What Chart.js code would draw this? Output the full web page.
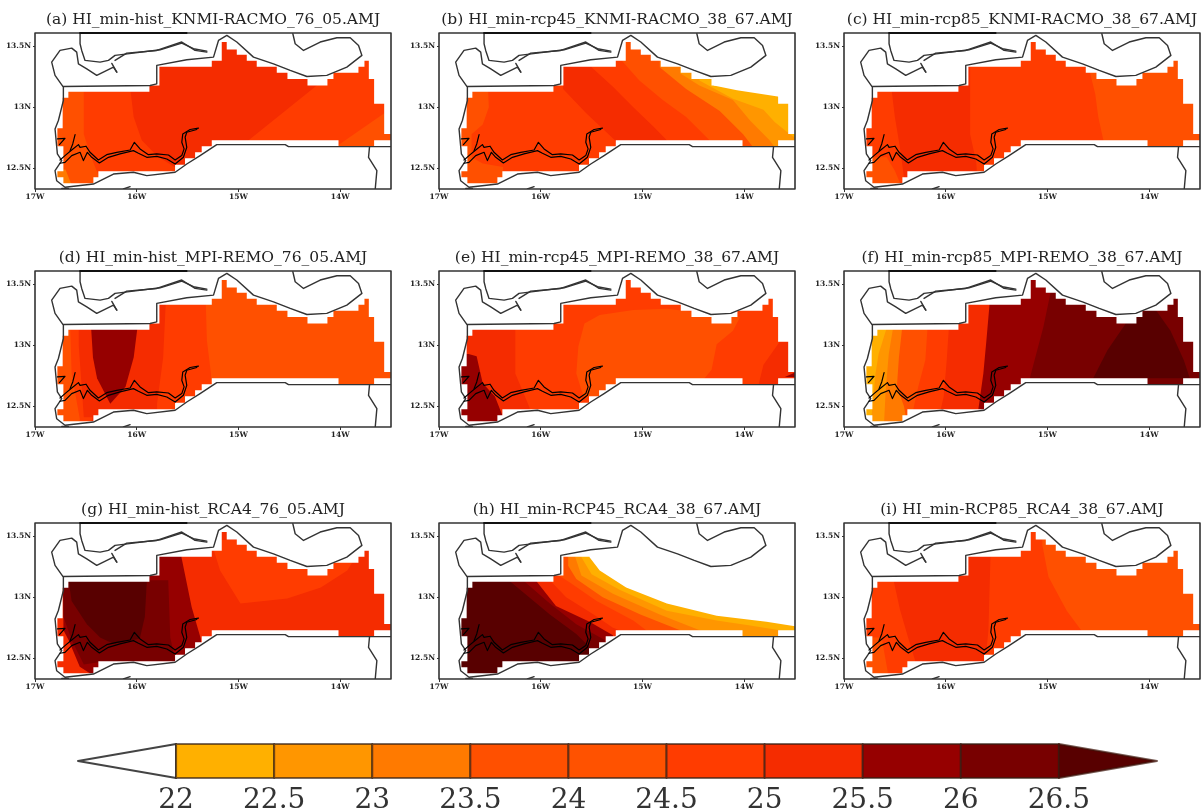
<!DOCTYPE html>
<html><head><meta charset="utf-8">
<script src="https://cdn.jsdelivr.net/npm/chart.js@4"></script>
<style>
html,body{margin:0;padding:0;background:#fff;width:1203px;height:809px;overflow:hidden}
canvas{position:absolute;filter:blur(.7px)}
</style></head><body>
<script>
// ---------- colour scale ----------
const levelColors = ["#FFB000","#FF9600","#FF7A00","#FF5000","#FF5200","#FF3C00","#F52C00","#960000","#780000","#580000"];
const levelTicks = [22,22.5,23,23.5,24,24.5,25,25.5,26,26.5];
// ---------- axes ----------
const lonTicks = {"-17":"17W","-16":"16W","-15":"15W","-14":"14W"};
const latTicks = {"12.5":"12.5N","13":"13N","13.5":"13.5N"};
const lonRange = [-17,-13.5];
const latRange = [12.33,13.61];
// ---------- geography (lon,lat) ----------
const region = [[-15.164,13.536],[-15.115,13.536],[-15.115,13.475],[-15.016,13.475],[-15.016,13.432],[-14.918,13.432],[-14.918,13.382],[-14.82,13.382],[-14.82,13.333],[-14.623,13.333],[-14.623,13.284],[-14.518,13.284],[-14.518,13.232],[-14.321,13.232],[-14.321,13.179],[-14.125,13.179],[-14.125,13.232],[-14.066,13.232],[-14.066,13.284],[-13.82,13.284],[-13.82,13.333],[-13.761,13.333],[-13.761,13.382],[-13.718,13.382],[-13.718,13.232],[-13.666,13.232],[-13.666,13.029],[-13.567,13.029],[-13.567,12.782],[-13.498,12.782],[-13.498,12.73],[-13.666,12.73],[-13.666,12.681],[-14.016,12.681],[-14.016,12.73],[-15.207,12.73],[-15.262,12.73],[-15.262,12.681],[-15.361,12.681],[-15.361,12.632],[-15.426,12.632],[-15.426,12.582],[-15.525,12.582],[-15.525,12.53],[-15.623,12.53],[-15.623,12.475],[-16.377,12.475],[-16.377,12.426],[-16.426,12.426],[-16.426,12.377],[-16.721,12.377],[-16.721,12.426],[-16.78,12.426],[-16.78,12.475],[-16.721,12.475],[-16.721,12.681],[-16.78,12.681],[-16.78,12.829],[-16.728,12.829],[-16.728,13.078],[-16.672,13.078],[-16.672,13.127],[-15.875,13.127],[-15.875,13.179],[-15.777,13.179],[-15.777,13.333],[-15.262,13.333],[-15.262,13.382],[-15.164,13.382]];
const coastWest = [[-16.196,13.289],[-16.229,13.33],[-16.393,13.262],[-16.491,13.316],[-16.573,13.357],[-16.59,13.453],[-16.639,13.486],[-16.754,13.467],[-16.836,13.371],[-16.803,13.262],[-16.721,13.166],[-16.721,13.056],[-16.77,12.892],[-16.803,12.823],[-16.78,12.618],[-16.737,12.563],[-16.803,12.481],[-16.787,12.398],[-16.705,12.344],[-16.426,12.371],[-16.229,12.453],[-16.032,12.467],[-15.901,12.44],[-15.622,12.467],[-15.508,12.535],[-15.377,12.604],[-15.213,12.694],[-14.54,12.694],[-14.508,12.678],[-13.498,12.678]];
const coastNorth = [[-16.721,13.171],[-15.868,13.179],[-15.803,13.193],[-15.803,13.344],[-15.508,13.39],[-15.245,13.412],[-15.196,13.549],[-15.114,13.59],[-15.016,13.536],[-14.852,13.412],[-14.655,13.357],[-14.491,13.303],[-14.327,13.253],[-14.131,13.262],[-13.934,13.33],[-13.786,13.426],[-13.819,13.508],[-13.901,13.571],[-14.032,13.571],[-14.196,13.536],[-14.36,13.467],[-14.442,13.522],[-14.465,13.604]];
const coastInlet = [[-16.557,13.604],[-16.557,13.522],[-16.541,13.467],[-16.508,13.385],[-16.36,13.371],[-16.278,13.385],[-16.213,13.426],[-16.032,13.445],[-15.77,13.472],[-15.557,13.527],[-15.442,13.481],[-15.311,13.461]];
const coastInlet2 = [[-16.213,13.385],[-16.098,13.445],[-15.803,13.467],[-15.557,13.536],[-15.426,13.467],[-15.311,13.453]];
const coastSpike = [[-16.245,13.36],[-16.196,13.289]];
const coastEast = [[-13.711,12.678],[-13.721,12.59],[-13.639,12.481],[-13.655,12.33]];
const coastDot1 = [[-16.737,12.335],[-16.672,12.335]];
const coastDot2 = [[-16.131,12.33],[-16.065,12.349]];
const topEdge = [[-16.557,13.61],[-15.51,13.61]];
const riverN = [[-15.393,12.829],[-15.475,12.818],[-15.547,12.782],[-15.557,12.713],[-15.534,12.659],[-15.557,12.604],[-15.622,12.568],[-15.688,12.609],[-15.803,12.618],[-15.885,12.612],[-15.967,12.659],[-16.023,12.713],[-16.065,12.65],[-16.196,12.631],[-16.295,12.612],[-16.377,12.568],[-16.459,12.631],[-16.498,12.681],[-16.557,12.672],[-16.573,12.694],[-16.639,12.65],[-16.705,12.604],[-16.754,12.568]];
const riverS = [[-15.409,12.818],[-15.508,12.796],[-15.524,12.755],[-15.508,12.672],[-15.541,12.59],[-15.622,12.535],[-15.704,12.576],[-15.803,12.598],[-15.901,12.59],[-15.983,12.623],[-16.032,12.645],[-16.164,12.618],[-16.278,12.59],[-16.367,12.544],[-16.442,12.59],[-16.485,12.631],[-16.524,12.563],[-16.557,12.631],[-16.639,12.604],[-16.705,12.549],[-16.754,12.541]];
const riverBranch = [[-16.606,12.776],[-16.629,12.7],[-16.655,12.645]];
const riverMouth = [[-16.78,12.741],[-16.705,12.746],[-16.76,12.694]];
const frameBox = [[-17,13.61],[-13.5,13.61],[-13.5,12.33],[-17,12.33],[-17,13.61]];
// ---------- panels ----------
const panelTitles = ["(a) HI_min-hist_KNMI-RACMO_76_05.AMJ","(b) HI_min-rcp45_KNMI-RACMO_38_67.AMJ","(c) HI_min-rcp85_KNMI-RACMO_38_67.AMJ","(d) HI_min-hist_MPI-REMO_76_05.AMJ","(e) HI_min-rcp45_MPI-REMO_38_67.AMJ","(f) HI_min-rcp85_MPI-REMO_38_67.AMJ","(g) HI_min-hist_RCA4_76_05.AMJ","(h) HI_min-RCP45_RCA4_38_67.AMJ","(i) HI_min-RCP85_RCA4_38_67.AMJ"];
const panelBase = [5,5,5,3,5,0,6,-1,5];
const zonesA = [
 [6,[[-16.07,13.6],[-16.06,13.13],[-16.03,12.92],[-15.95,12.73],[-15.80,12.60],[-15.57,12.48],[-15.25,12.67],[-14.90,12.73],[-14.23,13.18],[-14.07,13.33],[-14.07,13.6]]],
 [3,[[-16.85,13.2],[-16.52,13.2],[-16.52,12.78],[-16.46,12.62],[-16.38,12.45],[-16.34,12.32],[-16.85,12.32]]],
 [3,[[-14.07,12.66],[-13.57,12.95],[-13.4,12.95],[-13.4,12.66]]],
 [2,[[-16.79,12.49],[-16.70,12.49],[-16.64,12.36],[-16.79,12.36]]]];
const zonesB = [
 [3,[[-16.89,13.2],[-16.52,13.2],[-16.51,13.0],[-16.57,12.86],[-16.68,12.78],[-16.68,12.59],[-16.57,12.54],[-16.37,12.51],[-16.37,12.3],[-16.89,12.3]]],
 [6,[[-15.78,13.15],[-15.55,12.95],[-15.27,12.73],[-15.21,12.32],[-13.4,12.32],[-13.4,13.7],[-15.78,13.7]]],
 [5,[[-15.50,13.33],[-15.29,13.17],[-15.09,13.0],[-14.89,12.84],[-14.76,12.73],[-14.72,12.32],[-13.4,12.32],[-13.4,13.7],[-15.50,13.7]]],
 [3,[[-15.20,13.38],[-15.03,13.22],[-14.80,13.06],[-14.57,12.92],[-14.34,12.73],[-14.29,12.32],[-13.4,12.32],[-13.4,13.7],[-15.20,13.7]]],
 [2,[[-14.83,13.33],[-14.57,13.15],[-14.24,12.97],[-14.01,12.78],[-13.91,12.67],[-13.91,12.3],[-13.4,12.3],[-13.4,13.7],[-14.83,13.7]]],
 [1,[[-14.63,13.28],[-14.44,13.18],[-14.11,13.06],[-13.94,12.89],[-13.75,12.73],[-13.67,12.64],[-13.4,12.64],[-13.4,13.7],[-14.63,13.7]]],
 [0,[[-14.44,13.22],[-14.11,13.07],[-13.81,12.98],[-13.70,12.88],[-13.55,12.78],[-13.41,12.70],[-13.4,13.7],[-14.44,13.7]]],
 [-1,[[-14.30,13.18],[-14.07,13.14],[-13.67,13.09],[-13.4,13.02],[-13.4,13.7],[-14.30,13.7]]]];
const zonesC = [
 [6,[[-16.53,13.6],[-16.53,13.13],[-16.50,12.92],[-16.45,12.67],[-16.39,12.3],[-15.68,12.3],[-15.70,12.55],[-15.76,12.78],[-15.76,13.6]]],
 [3,[[-14.58,13.7],[-14.58,13.28],[-14.53,13.11],[-14.50,12.92],[-14.45,12.73],[-14.42,12.32],[-13.4,12.32],[-13.4,13.7]]],
 [3,[[-16.58,12.59],[-16.50,12.48],[-16.43,12.34],[-16.9,12.34],[-16.9,12.59]]]];
const zonesD = [
 [5,[[-16.67,13.6],[-16.64,12.77],[-16.56,12.40],[-16.56,12.3],[-15.25,12.3],[-15.27,12.77],[-15.31,13.04],[-15.33,13.6]]],
 [6,[[-16.57,13.6],[-16.57,13.0],[-16.52,12.41],[-16.44,12.41],[-16.44,12.3],[-15.80,12.3],[-15.80,12.52],[-15.74,12.90],[-15.70,13.6]]],
 [7,[[-16.46,13.3],[-16.43,12.9],[-16.39,12.73],[-16.26,12.52],[-16.11,12.66],[-16.03,12.90],[-15.97,13.3]]]];
const zonesE = [
 [6,[[-16.9,13.3],[-16.25,13.3],[-16.25,12.77],[-16.11,12.49],[-16.11,12.3],[-16.9,12.3]]],
 [3,[[-15.57,13.18],[-15.42,13.25],[-15.09,13.29],[-14.76,13.30],[-14.44,13.27],[-14.04,13.23],[-14.11,13.12],[-14.27,13.01],[-14.32,12.80],[-14.43,12.69],[-15.25,12.67],[-15.42,12.58],[-15.58,12.58],[-15.65,12.77],[-15.63,12.99]]],
 [7,[[-16.71,12.93],[-16.63,12.91],[-16.57,12.69],[-16.45,12.58],[-16.37,12.41],[-16.37,12.3],[-16.9,12.3],[-16.9,12.93]]],
 [6,[[-13.65,13.03],[-13.81,12.84],[-13.86,12.67],[-13.4,12.67],[-13.4,13.03]]],
 [7,[[-13.6,12.74],[-13.49,12.78],[-13.4,12.78],[-13.4,12.74]]]];
const zonesF = [
 [1,[[-16.585,13.13],[-16.66,12.93],[-16.69,12.77],[-16.73,12.41],[-16.73,12.3],[-13.4,12.3],[-13.4,13.7],[-16.585,13.7]]],
 [2,[[-16.52,13.13],[-16.56,12.93],[-16.59,12.63],[-16.61,12.3],[-13.4,12.3],[-13.4,13.7],[-16.52,13.7]]],
 [3,[[-16.43,13.13],[-16.46,12.9],[-16.48,12.66],[-16.41,12.5],[-16.37,12.3],[-13.4,12.3],[-13.4,13.7],[-16.43,13.7]]],
 [5,[[-16.18,13.13],[-16.2,12.88],[-16.27,12.66],[-16.32,12.47],[-16.32,12.3],[-13.4,12.3],[-13.4,13.7],[-16.18,13.7]]],
 [6,[[-15.97,13.13],[-15.99,12.88],[-16.02,12.58],[-16.05,12.47],[-16.05,12.3],[-13.4,12.3],[-13.4,13.7],[-15.97,13.7]]],
 [7,[[-15.57,13.33],[-15.60,13.04],[-15.63,12.77],[-15.68,12.47],[-15.68,12.3],[-13.4,12.3],[-13.4,13.7],[-15.57,13.7]]],
 [8,[[-14.97,13.43],[-15.04,13.15],[-15.17,12.74],[-15.17,12.3],[-13.4,12.3],[-13.4,13.7],[-14.97,13.7]]],
 [9,[[-13.96,13.32],[-14.23,13.18],[-14.41,12.96],[-14.55,12.73],[-13.6,12.73],[-13.66,12.88],[-13.79,13.12]]]];
const zonesG = [
 [5,[[-15.24,13.38],[-15.18,13.22],[-14.98,12.95],[-14.52,12.99],[-14.19,13.08],[-13.93,13.22],[-13.87,13.30],[-13.87,13.47],[-15.24,13.47]]],
 [7,[[-16.73,13.6],[-16.72,12.73],[-16.67,12.65],[-16.56,12.43],[-16.43,12.36],[-15.34,12.36],[-15.37,12.66],[-15.46,12.92],[-15.56,13.33],[-15.56,13.6]]],
 [8,[[-16.72,13.08],[-16.72,12.84],[-16.64,12.65],[-16.52,12.45],[-16.36,12.47],[-15.62,12.48],[-15.67,12.67],[-15.69,13.14],[-16.72,13.14]]],
 [9,[[-16.67,13.14],[-16.64,12.97],[-16.49,12.78],[-16.36,12.67],[-16.23,12.62],[-15.97,12.66],[-15.92,12.84],[-15.90,13.14]]]];
const zonesH = [
 [0,[[-15.52,13.33],[-15.42,13.22],[-15.16,13.08],[-14.76,12.95],[-14.27,12.85],[-13.78,12.8],[-13.48,12.76],[-13.41,12.75],[-13.4,12.3],[-16.9,12.3],[-16.9,13.7],[-15.52,13.7]]],
 [1,[[-15.6,13.33],[-15.5,13.19],[-15.22,13.06],[-14.76,12.89],[-14.27,12.81],[-13.94,12.77],[-13.65,12.73],[-13.65,12.3],[-16.9,12.3],[-16.9,13.7],[-15.6,13.7]]],
 [2,[[-15.66,13.33],[-15.6,13.18],[-15.29,13.03],[-14.83,12.86],[-14.50,12.75],[-14.37,12.71],[-14.37,12.3],[-16.9,12.3],[-16.9,13.7],[-15.66,13.7]]],
 [3,[[-15.73,13.26],[-15.65,13.15],[-15.39,13.0],[-15.02,12.86],[-14.63,12.73],[-14.63,12.3],[-16.9,12.3],[-16.9,13.7],[-15.73,13.7]]],
 [5,[[-15.84,13.19],[-15.71,13.12],[-15.45,12.97],[-15.09,12.81],[-14.93,12.71],[-14.93,12.3],[-16.9,12.3],[-16.9,13.7],[-15.84,13.7]]],
 [6,[[-15.91,13.14],[-15.75,13.0],[-15.48,12.86],[-15.29,12.75],[-15.16,12.71],[-15.16,12.3],[-16.9,12.3],[-16.9,13.7],[-15.91,13.7]]],
 [7,[[-16.04,13.13],[-15.85,12.93],[-15.52,12.8],[-15.29,12.69],[-15.29,12.3],[-16.9,12.3],[-16.9,13.7],[-16.04,13.7]]],
 [8,[[-16.16,13.13],[-15.91,12.95],[-15.65,12.78],[-15.37,12.65],[-15.37,12.3],[-16.9,12.3],[-16.9,13.7],[-16.16,13.7]]],
 [9,[[-16.3,13.13],[-15.91,12.86],[-15.65,12.7],[-15.48,12.56],[-15.48,12.3],[-16.9,12.3],[-16.9,13.7],[-16.3,13.7]]]];
const zonesI = [
 [6,[[-16.51,13.6],[-16.51,13.13],[-16.45,12.9],[-16.37,12.67],[-16.3,12.48],[-16.3,12.3],[-15.63,12.3],[-15.58,12.73],[-15.56,13.33],[-15.56,13.6]]],
 [3,[[-15.05,13.7],[-15.05,13.43],[-14.99,13.17],[-14.81,12.89],[-14.65,12.71],[-14.65,12.3],[-13.4,12.3],[-13.4,13.7]]],
 [3,[[-16.63,12.67],[-16.57,12.39],[-16.57,12.3],[-16.9,12.3],[-16.9,12.67]]]];
const panelZones = [zonesA,zonesB,zonesC,zonesD,zonesE,zonesF,zonesG,zonesH,zonesI];

// ---------- helpers ----------
function ring(pts){return pts.map(p=>({x:p[0],y:p[1]}));}
function fillDs(pts,color){
  const c=pts.slice();c.push(pts[0]);
  return {data:ring(c),showLine:true,fill:'shape',backgroundColor:color,borderWidth:0,borderColor:'transparent',pointRadius:0,tension:0};
}
function lineDs(pts,color,w,noClip){
  const d={data:ring(pts),showLine:true,fill:false,borderColor:color,borderWidth:w,pointRadius:0,tension:0,borderJoinStyle:'round',borderCapStyle:'round'};
  if(noClip)d.clip=false;
  return d;
}
function ordered(list){list.forEach((d,i)=>{d.order=-i;});return list;}
Chart.defaults.animation=false;
const SERIF='"DejaVu Serif"';
const canvasLefts=[0,404,809], canvasTops=[0,238,490];

panelTitles.forEach((title,n)=>{
  const cv=document.createElement('canvas');
  cv.width=394;cv.height=210;
  cv.style.left=canvasLefts[n%3]+'px';
  cv.style.top=canvasTops[Math.floor(n/3)]+'px';
  document.body.appendChild(cv);
  const ds=[];
  if(panelBase[n]>=0) ds.push(fillDs(frameBox.slice(0,4),levelColors[panelBase[n]]));
  panelZones[n].forEach(z=>ds.push(fillDs(z[1],z[0]<0?'#ffffff':levelColors[z[0]])));
  const outer=[[-17.2,13.8],[-13.3,13.8],[-13.3,12.1],[-17.2,12.1],[-17.2,13.8]];
  const hole=region.slice().reverse();
  const mask=outer.concat(hole,[hole[0],outer[0]]);
  ds.push(fillDs(mask,'#ffffff'));
  [coastWest,coastNorth,coastInlet,coastInlet2,coastSpike,coastEast,coastDot1,coastDot2].forEach(c=>ds.push(lineDs(c,'#333333',1.4)));
  [riverN,riverS,riverBranch,riverMouth].forEach(c=>ds.push(lineDs(c,'#000000',1.2)));
  ds.push(lineDs(frameBox,'#333333',1.6,true));
  ds.push(lineDs(topEdge,'#111111',2,true));
  new Chart(cv,{type:'scatter',data:{datasets:ordered(ds)},options:{
    responsive:false,animation:false,
    layout:{padding:{left:0,right:3,top:0,bottom:0}},
    plugins:{legend:{display:false},tooltip:{enabled:false},
      title:{display:true,text:title,fullSize:false,color:'#222',
        font:{family:SERIF,size:15.5,lineHeight:1.2,weight:'normal'},
        padding:{top:11,bottom:3.4}}},
    scales:{
      x:{type:'linear',min:lonRange[0],max:lonRange[1],
        afterFit(s){s.height=21;},
        grid:{display:true,drawOnChartArea:false,drawTicks:true,tickLength:3,tickColor:'#333'},
        border:{display:false},
        ticks:{stepSize:1,includeBounds:false,maxRotation:0,autoSkip:false,padding:1,color:'#222',
          font:{family:SERIF,size:7.5,weight:'bold'},
          callback:v=>lonTicks[String(v)]||''}},
      y:{type:'linear',min:latRange[0],max:latRange[1],
        afterFit(s){s.width=35;},
        grid:{display:true,drawOnChartArea:false,drawTicks:true,tickLength:2,tickColor:'#333'},
        border:{display:false},
        ticks:{stepSize:0.5,includeBounds:false,autoSkip:false,padding:2,color:'#222',
          font:{family:SERIF,size:7.5,weight:'bold'},
          callback:v=>latTicks[String(v)]||''}}
    }}});
});

// ---------- colour bar ----------
(function(){
  const cv=document.createElement('canvas');
  cv.width=1203;cv.height=79;cv.style.left='0px';cv.style.top='730px';
  document.body.appendChild(cv);
  const ds=[];
  function edged(pts,color,edge){const d=fillDs(pts,color);d.borderWidth=2;d.borderColor=edge;d.borderJoinStyle='round';d.clip=false;return d;}
  ds.push(edged([[22,0],[21.5,0.5],[22,1]],'#ffffff','#444444'));
  levelTicks.slice(0,-1).forEach((v,i)=>{ds.push(edged([[v,0],[v+0.5,0],[v+0.5,1],[v,1]],levelColors[i],'rgba(50,30,20,.65)'));});
  ds.push(edged([[26.5,0],[27,0.5],[26.5,1]],levelColors[9],'rgba(60,20,10,.7)'));
  new Chart(cv,{type:'scatter',data:{datasets:ordered(ds)},options:{
    responsive:false,animation:false,
    layout:{padding:{left:78,right:46,top:14,bottom:0}},
    plugins:{legend:{display:false},tooltip:{enabled:false},title:{display:false}},
    scales:{
      x:{type:'linear',min:21.5,max:27,afterFit(s){s.height=31;},
        grid:{display:false},border:{display:false},
        ticks:{stepSize:0.5,autoSkip:false,maxRotation:0,padding:-2,color:'#333',
          font:{family:SERIF,size:28},
          callback:v=>levelTicks.includes(v)?String(v):''}},
      y:{type:'linear',min:0,max:1,display:false}
    }}});
})();
</script>
</body></html>
